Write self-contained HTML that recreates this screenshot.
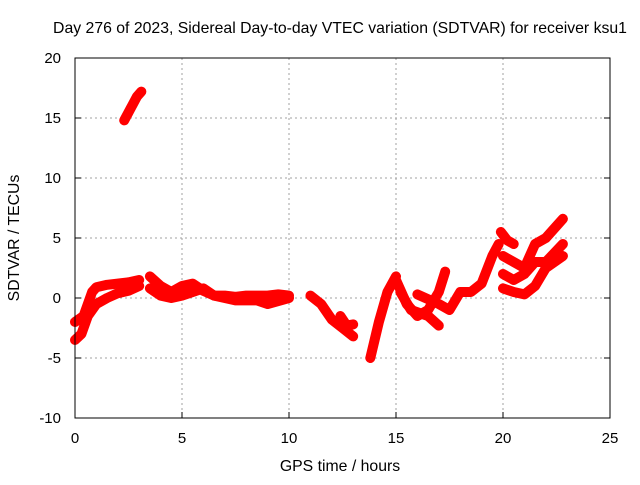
<!DOCTYPE html>
<html><head><meta charset="utf-8"><style>
body{margin:0;background:#fff;}
svg text{font-family:"Liberation Sans",sans-serif;font-size:15px;fill:#000;}
</style></head><body>
<svg width="640" height="480" id="c">
<text x="340" y="33" text-anchor="middle" style="font-size:15.8px">Day 276 of 2023, Sidereal Day-to-day VTEC variation (SDTVAR) for receiver ksu1</text>
<text x="340" y="471" text-anchor="middle" style="font-size:15.8px">GPS time / hours</text>
<text transform="translate(19,238) rotate(-90)" text-anchor="middle" style="font-size:15.8px">SDTVAR / TECUs</text>
<g id="grid"></g><g id="marks"></g>
<rect x="75" y="58" width="535" height="360" fill="none" stroke="#000" stroke-width="1"/>
</svg>
<script>
const xTicks=[0,5,10,15,20,25];
const yTicks=[-10,-5,0,5,10,15,20];
const trackIsolated=[[2.3,14.8],[2.6,15.8],[2.9,16.8],[3.1,17.2]];
const trackLowLeft=[[0,-3.5],[0.3,-3],[0.6,-1.5],[1.0,-0.5],[1.5,0],[2,0.4],[2.5,0.6],[3,1.0]];
const trackUpLeft=[[0,-2],[0.4,-1.5],[0.8,0.5],[1.0,0.9],[1.5,1.1],[2,1.2],[2.5,1.3],[3,1.5]];
const trackMidA=[[3.5,1.8],[4,1],[4.5,0.5],[5,1],[5.5,1.2],[6,0.6],[6.5,0.2],[7,0.2],[7.5,0.1],[8,0.2],[8.5,0.2],[9,0.2],[9.5,0.3],[10,0.2]];
const trackMidB=[[3.5,0.8],[4,0.2],[4.5,0],[5,0.2],[5.5,0.5],[6,0.8],[6.5,0.2],[7.5,-0.2],[8.5,-0.2],[9,-0.5],[10,0]];
const trackDip=[[11,0.2],[11.5,-0.5],[12,-1.8],[12.5,-2.5],[13,-3.2]];
const trackDip2=[[12.4,-1.5],[12.7,-2.3],[13,-2.2]];
const trackRise=[[13.8,-5],[14.2,-2],[14.6,0.5],[15,1.8]];
const trackAfterA=[[15,1.5],[15.5,-0.5],[16,-1.5],[16.5,-1],[17,0.5],[17.3,2.2]];
const trackAfterB=[[15.2,0.5],[15.7,-1],[16.5,-1.5],[17,-2.3]];
const trackAfterC=[[16,0.3],[17,-0.5],[17.5,-1.0],[18,0.5],[18.5,0.5],[19,1.2],[19.5,3.5],[19.8,4.5]];
const trackEndA=[[19.9,5.5],[20.2,4.8],[20.5,4.5]];
const trackEndB=[[20,3.5],[20.5,3],[21,2.5],[21.5,4.5],[22,5],[22.5,6],[22.8,6.6]];
const trackEndC=[[20,2],[20.5,1.5],[21,2],[21.5,3],[22,3],[22.8,4.5]];
const trackEndD=[[20,0.8],[20.5,0.5],[21,0.3],[21.5,1],[22,2.5],[22.8,3.5]];
const tracks=[trackIsolated,trackLowLeft,trackUpLeft,trackMidA,trackMidB,trackDip,trackDip2,trackRise,trackAfterA,trackAfterB,trackAfterC,trackEndA,trackEndB,trackEndC,trackEndD];
const X=h=>75+h*535/25, Y=v=>298-v*12;
const NS='http://www.w3.org/2000/svg';
const g=document.getElementById('grid'), m=document.getElementById('marks');
xTicks.forEach(t=>{
 if(t>0&&t<25){const l=document.createElementNS(NS,'line');l.setAttribute('x1',X(t));l.setAttribute('x2',X(t));l.setAttribute('y1',58);l.setAttribute('y2',418);l.setAttribute('stroke','#a0a0a0');l.setAttribute('stroke-dasharray','2,3');
 
 g.appendChild(l);}
 const tk=document.createElementNS(NS,'line');tk.setAttribute('x1',X(t));tk.setAttribute('x2',X(t));tk.setAttribute('y1',418);tk.setAttribute('y2',412);tk.setAttribute('stroke','#000');g.appendChild(tk);
 const tx=document.createElementNS(NS,'text');tx.setAttribute('x',X(t));tx.setAttribute('y',443);tx.setAttribute('text-anchor','middle');tx.textContent=t;
 
 g.appendChild(tx);
});
yTicks.forEach(t=>{
 if(t>-10&&t<20){const l=document.createElementNS(NS,'line');l.setAttribute('x1',75);l.setAttribute('x2',610);l.setAttribute('y1',Y(t));l.setAttribute('y2',Y(t));l.setAttribute('stroke','#a0a0a0');l.setAttribute('stroke-dasharray','2,3');
 
 g.appendChild(l);}
 [[75,81],[610,604]].forEach(p=>{const tk=document.createElementNS(NS,'line');tk.setAttribute('x1',p[0]);tk.setAttribute('x2',p[1]);tk.setAttribute('y1',Y(t));tk.setAttribute('y2',Y(t));tk.setAttribute('stroke','#000');g.appendChild(tk);});
 const tx=document.createElementNS(NS,'text');tx.setAttribute('x',61);tx.setAttribute('y',Y(t)+5);tx.setAttribute('text-anchor','end');tx.textContent=t;
 
 g.appendChild(tx);
});
tracks.forEach(tr=>{
 const p=document.createElementNS(NS,'polyline');
 p.setAttribute('points',tr.map(d=>X(d[0])+','+Y(d[1])).join(' '));
 p.setAttribute('fill','none');p.setAttribute('stroke','#ff0000');p.setAttribute('stroke-width','10');p.setAttribute('stroke-linejoin','round');p.setAttribute('stroke-linecap','round');
 
 
 m.appendChild(p);
});
</script>
</body></html>
